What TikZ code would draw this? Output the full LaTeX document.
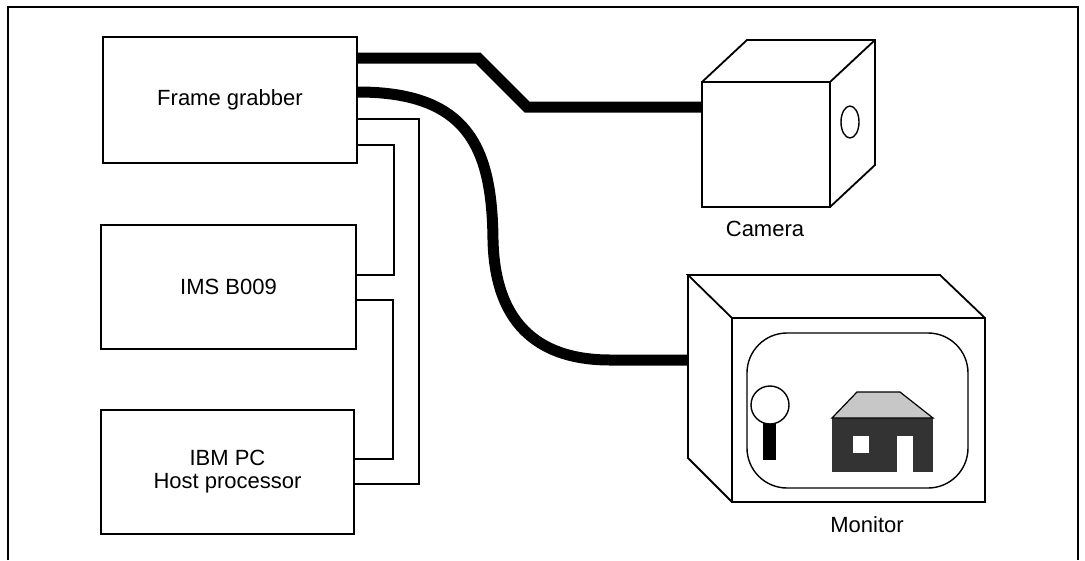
\documentclass[tikz,border=0pt]{standalone}
\usepackage{fontspec}
\setmainfont{Liberation Sans}
\begin{document}
\begin{tikzpicture}[x=1pt,y=-1pt,
  unit/.style={draw, line width=1.8pt, align=center, inner sep=0pt,
    font=\fontsize{22}{23}\selectfont},
  bus/.style={line width=1.4pt, line join=miter},
  cable/.style={line width=11pt, line join=miter},
  outline/.style={line width=1.8pt, line join=miter},
  caption/.style={font=\fontsize{22}{23}\selectfont, inner sep=0pt}]
\useasboundingbox (0,0) rectangle (1085,560);
% surrounding frame
\draw[line width=1.8pt] (8,560) -- (8,7) -- (1078,7) -- (1078,560);

% processing units
\node[unit, minimum width=254pt, minimum height=126pt] (fg) at (230,100) {Frame grabber};
\node[unit, minimum width=255pt, minimum height=124pt] (ims) at (228.5,287) {IMS B009};
\node[unit, minimum width=253pt, minimum height=124pt] (ibm) at (227.5,472) {IBM PC\\Host processor};

% links between the units
\draw[bus] ([yshift=-19pt]fg.east) -- ++(61,0) |- ([yshift=-12pt]ibm.east);
\draw[bus] ([yshift=-45pt]fg.east) -- ++(36,0) |- ([yshift=12pt]ims.east);
\draw[bus] ([yshift=-13pt]ims.east) -- ++(36,0) |- ([yshift=13pt]ibm.east);

% camera
\draw[outline] (702,82) -- (747,40) -- (875,40) -- (875,165) -- (830,207);
\draw[outline] (830,82) -- (875,40);
\node[draw, outline, minimum width=128pt, minimum height=125pt, inner sep=0pt] (cam) at (766,144.5) {};
\draw[line width=1.4pt] (850,122) ellipse [x radius=9, y radius=16];
\node[caption] (camlabel) at (765,229) {Camera};

% monitor
\draw[outline] (732,318) -- (688,275) -- (940,275) -- (985,318);
\draw[outline] (688,275) -- (688,458) -- (732,502);
\node[draw, outline, minimum width=253pt, minimum height=184pt, inner sep=0pt] (mon) at (858.5,410) {};
\coordinate (monin) at (688,360);
\node[draw, line width=1.4pt, rounded corners=40pt, minimum width=221pt, minimum height=155pt, inner sep=0pt] (screen) at (857.5,410.5) {};
% picture on the screen: magnifier and house
\fill (763,423) rectangle (776,460);
\draw[line width=1.4pt, fill=white] (770,405) circle [radius=19];
\fill[black!80] (832,418) rectangle (933,472);
\filldraw[fill=black!22, draw=black, line width=1.2pt] (832,418) -- (857,392) -- (900,392) -- (933,418) -- cycle;
\fill[white] (853,436) rectangle (869,453);
\fill[white] (897,436) rectangle (913,472);
\node[caption] (monlabel) at (867,525) {Monitor};

% video cables
\draw[cable] ([yshift=42pt]fg.east) -- (478,58) -- (527,107) -- ([yshift=37.5pt]cam.west);
\draw[cable] ([yshift=8pt]fg.east) .. controls (470,92) and (492,150) .. (493,240)
  .. controls (495,330) and (545,360) .. (610,360) -- (monin);
\end{tikzpicture}
\end{document}
